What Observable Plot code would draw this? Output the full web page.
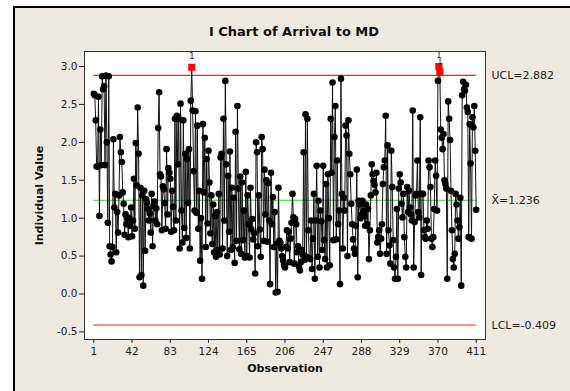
<!DOCTYPE html>
<html><head><meta charset="utf-8">
<script src="https://cdn.jsdelivr.net/npm/d3@7"></script>
<script src="https://cdn.jsdelivr.net/npm/@observablehq/plot@0.6"></script>
<style>
html,body{margin:0;padding:0;background:#fff;width:570px;height:391px;overflow:hidden;}
#bg{position:absolute;left:13px;top:6px;width:557px;height:385px;background:#EEEAE1;border-left:2px solid #000;border-top:2px solid #000;box-sizing:border-box;}
#chart{position:absolute;left:0;top:0;}
</style></head><body><div id="bg"></div><div id="chart"></div>
<script>
// Individual values, observation 1..411
const values = [
2.64,2.62,2.29,1.68,1.68,2.60,1.03,2.17,1.70,2.87,
2.70,2.74,1.70,2.88,2.00,0.94,2.87,0.63,0.52,0.43,
0.62,2.04,1.14,1.32,0.55,1.08,0.81,1.30,2.07,1.87,
1.74,1.34,1.19,0.78,1.05,0.92,1.01,0.75,1.00,0.90,
1.14,0.76,0.97,1.52,0.86,1.99,1.43,2.46,1.85,0.22,
1.40,0.25,1.30,0.11,1.36,0.57,1.25,1.20,1.12,0.97,
1.06,0.81,1.32,0.63,1.16,1.22,0.97,1.13,0.92,2.19,
2.66,1.58,1.55,0.84,1.42,1.38,1.20,0.86,1.91,1.05,
1.66,1.60,1.52,0.82,1.36,1.15,0.84,2.31,0.97,2.35,
1.71,2.31,0.60,2.51,1.10,0.68,2.29,0.87,1.85,0.74,
1.78,1.20,1.91,0.60,2.55,2.99,2.42,1.62,1.10,2.41,
1.07,2.22,0.86,1.36,0.44,1.00,0.20,2.24,1.34,2.06,
0.62,1.78,0.93,1.89,1.47,0.80,1.30,0.66,1.18,0.55,
1.03,0.49,1.08,0.58,1.32,0.52,1.80,1.85,0.60,2.31,
0.97,2.81,1.71,0.50,1.56,0.82,1.88,0.58,1.40,0.62,
1.27,0.41,2.14,0.70,2.48,1.39,0.59,1.55,0.53,1.47,
0.71,1.10,0.48,1.61,0.50,1.30,0.92,0.48,1.40,0.85,
0.99,0.72,0.80,0.27,2.00,1.87,0.63,1.30,0.85,0.49,
2.07,1.91,0.70,1.64,1.05,1.50,0.69,1.46,0.97,0.13,
1.60,0.92,1.28,0.62,1.08,0.02,0.66,0.03,1.40,0.70,
0.68,0.60,0.50,0.44,0.38,0.35,0.62,0.84,0.60,0.82,
0.42,0.73,0.94,1.32,1.01,0.40,0.99,0.92,0.55,0.63,
0.36,0.31,0.42,0.58,0.52,1.87,0.45,2.37,0.49,2.31,
0.84,0.47,0.46,0.97,0.33,0.73,1.32,0.20,0.97,1.69,
0.49,1.23,0.35,1.10,0.96,0.58,1.69,0.71,0.46,1.45,
0.35,1.58,1.00,0.38,2.31,1.60,2.79,0.71,2.07,2.48,
0.72,1.76,0.92,1.10,0.13,2.84,1.32,0.60,1.27,1.10,
2.22,2.09,0.50,2.29,1.85,1.58,1.19,0.92,0.72,0.60,
0.53,0.90,1.64,0.22,1.23,1.18,1.00,1.04,1.23,1.10,
1.03,0.90,1.18,0.92,1.12,0.46,0.84,1.30,1.71,1.58,
1.49,1.44,1.34,1.60,0.68,0.75,0.84,0.53,0.73,0.92,
1.45,1.67,1.76,2.35,0.53,1.96,0.84,0.64,0.40,1.89,
1.41,0.71,0.35,0.20,0.49,1.12,0.20,1.39,1.58,1.47,
1.19,1.01,1.32,0.75,0.49,0.35,1.41,1.08,1.36,1.14,
1.05,0.97,2.42,0.35,0.95,1.30,1.32,1.76,1.08,1.01,
2.33,0.25,1.32,1.32,0.84,0.75,0.73,0.97,0.86,1.76,
1.67,1.41,0.73,0.62,0.75,1.12,1.76,1.56,1.10,2.81,
3.00,2.93,2.17,2.06,1.91,2.11,1.50,1.45,1.39,0.20,
2.54,2.31,2.03,1.36,0.84,0.46,0.35,0.53,1.32,1.18,
0.97,0.73,0.88,1.27,0.11,2.62,2.80,2.70,2.68,2.76,
2.46,2.40,0.75,2.24,1.72,0.73,2.33,2.20,2.48,1.89,
1.11
];
const ucl = 2.882;
const centerLine = 1.236;
const lcl = -0.409;
const flaggedObs = [106, 371, 372];
const xTicks = [1, 42, 83, 124, 165, 206, 247, 288, 329, 370, 411];
const yTicks = [-0.5, 0.0, 0.5, 1.0, 1.5, 2.0, 2.5, 3.0];
const limitLabels = ["UCL=2.882", "X\u0304=1.236", "LCL=-0.409"];

const data = values.map((v, i) => ({obs: i + 1, v}));
const normal = data.filter(d => !flaggedObs.includes(d.obs));
const flagged = data.filter(d => flaggedObs.includes(d.obs));
const limits = [
  {y: ucl, a: 1, b: 411, t: limitLabels[0]},
  {y: centerLine, a: 1, b: 411, t: limitLabels[1]},
  {y: lcl, a: 1, b: 411, t: limitLabels[2]}
];

const chart = Plot.plot({
  width: 570, height: 391,
  marginLeft: 84, marginRight: 85, marginTop: 51, marginBottom: 52,
  style: {background: "transparent", fontFamily: "DejaVu Sans", fontSize: "10.5px", color: "#222"},
  x: {domain: [-9, 421]},
  y: {domain: [-0.6, 3.198]},
  marks: [
    Plot.frame({fill: "white", stroke: "#333"}),
    Plot.axisX({ticks: xTicks, tickSize: 4, tickPadding: 4, label: null, tickFormat: d => String(d)}),
    Plot.axisY({ticks: yTicks, tickSize: 5, tickPadding: 2, label: null, tickFormat: d => d.toFixed(1)}),
    Plot.ruleY([limits[0]], {y: "y", x1: "a", x2: "b", stroke: "#FF2222", strokeWidth: 1.3}),
    Plot.ruleY([limits[1]], {y: "y", x1: "a", x2: "b", stroke: "#33CC33", strokeWidth: 1}),
    Plot.ruleY([limits[2]], {y: "y", x1: "a", x2: "b", stroke: "#E8262A", strokeWidth: 1}),
    Plot.line(data, {x: "obs", y: "v", stroke: "#111", strokeWidth: 1}),
    Plot.dot(normal, {x: "obs", y: "v", r: 3.3, fill: "#000", stroke: "none"}),
    Plot.dot(flagged, {x: "obs", y: "v", symbol: "square", r: 4, fill: "#FF0000", stroke: "none"}),
    Plot.text(flagged, {x: "obs", y: "v", text: () => "1", dy: -11, fontSize: 9, fill: "#333"}),
    Plot.text(limits, {y: "y", frameAnchor: "right", text: "t", dx: 6, textAnchor: "start", fontSize: 11, fill: "#222"}),
    Plot.text([0], {frameAnchor: "top", dx: 9, dy: -25, text: () => "I Chart of Arrival to MD", fontWeight: "bold", fontSize: 13, fill: "#111"}),
    Plot.text([0], {frameAnchor: "bottom", dy: 32, text: () => "Observation", fontWeight: "bold", fontSize: 11, fill: "#111"}),
    Plot.text([0], {frameAnchor: "left", dx: -45, rotate: -90, textAnchor: "middle", text: () => "Individual Value", fontWeight: "bold", fontSize: 11, fill: "#111"})
  ]
});
document.getElementById("chart").appendChild(chart);
</script>
</body></html>
